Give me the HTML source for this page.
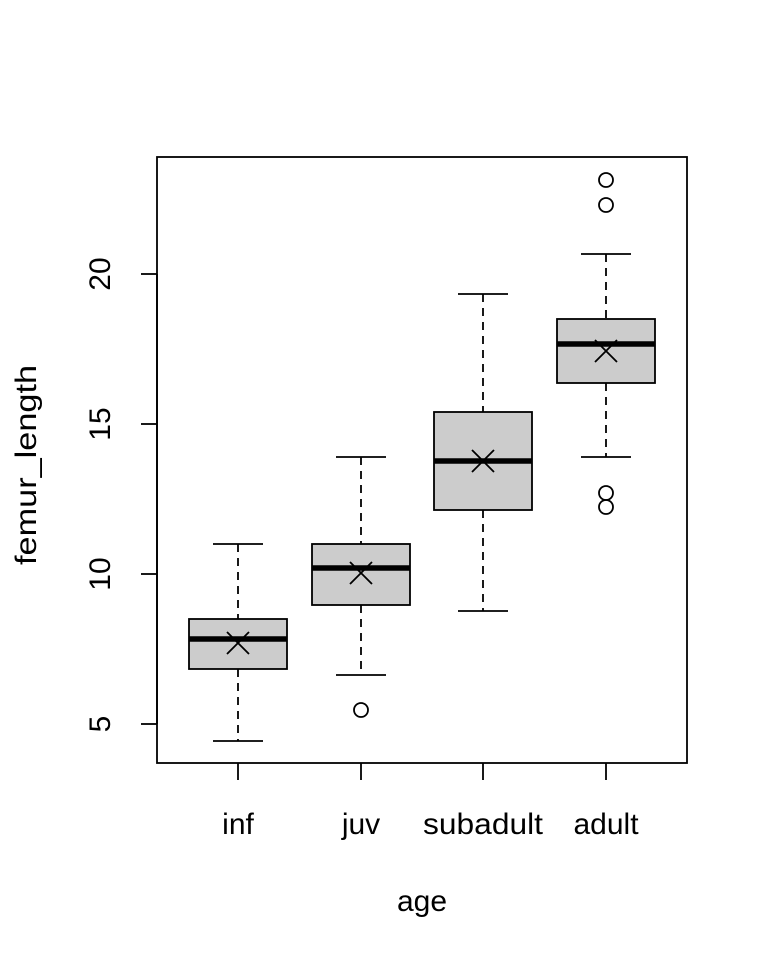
<!DOCTYPE html>
<html><head><style>body{margin:0;background:#fff}</style></head><body>
<svg width="768" height="960" xmlns="http://www.w3.org/2000/svg" font-family="Liberation Sans, sans-serif" font-size="30" fill="#000">
<rect x="157" y="157" width="530" height="606" fill="none" stroke="#000" stroke-width="1.8"/>
<g stroke="#000" stroke-width="1.8">
<line x1="157" y1="274" x2="157" y2="724"/>
<line x1="141" y1="274" x2="157" y2="274"/><line x1="141" y1="424" x2="157" y2="424"/>
<line x1="141" y1="574" x2="157" y2="574"/><line x1="141" y1="724" x2="157" y2="724"/>
<line x1="238" y1="763" x2="238" y2="780"/><line x1="361" y1="763" x2="361" y2="780"/>
<line x1="483" y1="763" x2="483" y2="780"/><line x1="606" y1="763" x2="606" y2="780"/>
</g>
<g font-size="30" text-anchor="middle">
<text transform="translate(110,274) rotate(-90)">20</text>
<text transform="translate(110,424) rotate(-90)">15</text>
<text transform="translate(110,574) rotate(-90)">10</text>
<text transform="translate(110,724) rotate(-90)">5</text>
<text x="238" y="834">inf</text><text x="361" y="834">juv</text>
<text x="483" y="834" textLength="120" lengthAdjust="spacingAndGlyphs">subadult</text><text x="606" y="834">adult</text>
<text x="422" y="911">age</text>
<text transform="translate(36,465) rotate(-90)" textLength="200" lengthAdjust="spacingAndGlyphs">femur_length</text>
</g>
<g stroke="#000" stroke-width="1.8" fill="none">
<line x1="238" y1="544" x2="238" y2="619" stroke-dasharray="8,6"/>
<line x1="238" y1="669" x2="238" y2="741" stroke-dasharray="8,6"/>
<line x1="213" y1="544" x2="263" y2="544"/><line x1="213" y1="741" x2="263" y2="741"/>
<rect x="189" y="619" width="98" height="50" fill="#cccccc"/>
<line x1="189" y1="639" x2="287" y2="639" stroke-width="5.5"/>
<path d="M227 632L249 654M249 632L227 654"/>
<line x1="361" y1="457" x2="361" y2="544" stroke-dasharray="8,6"/>
<line x1="361" y1="605" x2="361" y2="675" stroke-dasharray="8,6"/>
<line x1="336" y1="457" x2="386" y2="457"/><line x1="336" y1="675" x2="386" y2="675"/>
<rect x="312" y="544" width="98" height="61" fill="#cccccc"/>
<line x1="312" y1="568" x2="410" y2="568" stroke-width="5.5"/>
<path d="M350 562L372 584M372 562L350 584"/>
<circle cx="361" cy="710" r="7"/>
<line x1="483" y1="294" x2="483" y2="412" stroke-dasharray="8,6"/>
<line x1="483" y1="510" x2="483" y2="611" stroke-dasharray="8,6"/>
<line x1="458" y1="294" x2="508" y2="294"/><line x1="458" y1="611" x2="508" y2="611"/>
<rect x="434" y="412" width="98" height="98" fill="#cccccc"/>
<line x1="434" y1="461" x2="532" y2="461" stroke-width="5.5"/>
<path d="M472 450L494 472M494 450L472 472"/>
<line x1="606" y1="254" x2="606" y2="319" stroke-dasharray="8,6"/>
<line x1="606" y1="383" x2="606" y2="457" stroke-dasharray="8,6"/>
<line x1="581" y1="254" x2="631" y2="254"/><line x1="581" y1="457" x2="631" y2="457"/>
<rect x="557" y="319" width="98" height="64" fill="#cccccc"/>
<line x1="557" y1="344" x2="655" y2="344" stroke-width="5.5"/>
<path d="M595 340L617 362M617 340L595 362"/>
<circle cx="606" cy="180" r="7"/><circle cx="606" cy="205" r="7"/>
<circle cx="606" cy="493" r="7"/><circle cx="606" cy="507" r="7"/>
</g>
</svg>
</body></html>
